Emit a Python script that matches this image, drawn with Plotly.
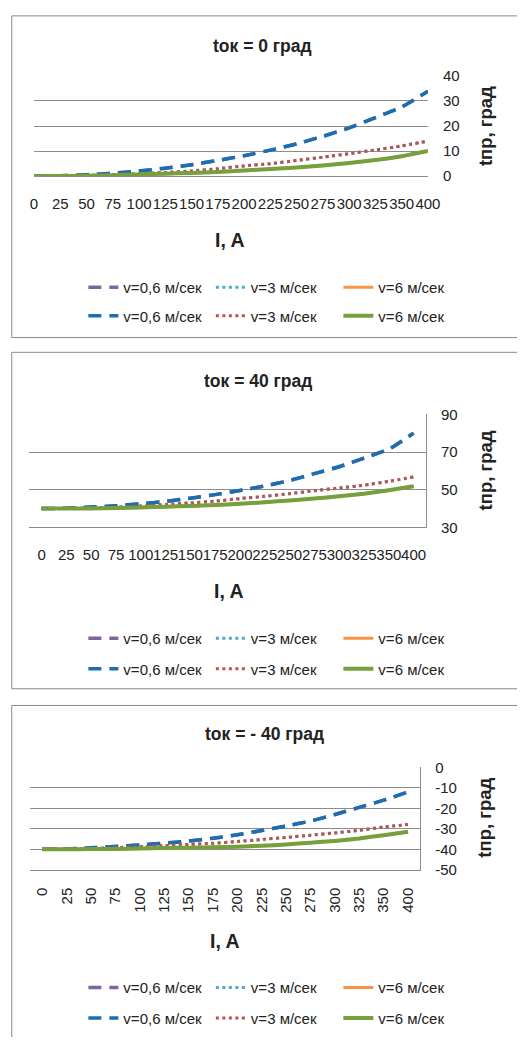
import plotly.graph_objects as go

# ---------------- data ----------------
currents = ["0", "25", "50", "75", "100", "125", "150", "175", "200",
            "225", "250", "275", "300", "325", "350", "400"]

panel_titles = ["tок = 0 град", "tок = 40 град", "tок = - 40 град"]
x_title = "I, A"
y_title = "tпр, град"
series_names = ["v=0,6 м/сек", "v=3 м/сек", "v=6 м/сек"]

# tок = 0 град
t0_v06 = [0, 0.2, 0.6, 1.2, 2.1, 3.2, 4.6, 6.3, 8.2, 10.4, 12.9, 15.9, 19.3, 23.4, 27.6, 33.9]
t0_v3 = [0, 0.1, 0.3, 0.6, 1.0, 1.5, 2.1, 3.0, 4.1, 5.0, 6.3, 7.6, 9.0, 10.5, 12.1, 14.0]
t0_v6 = [0, 0.05, 0.2, 0.4, 0.7, 1.0, 1.3, 1.7, 2.3, 2.9, 3.5, 4.3, 5.3, 6.5, 8.0, 10.1]

# tок = 40 град
t40_v06 = [40, 40.2, 40.8, 41.5, 42.5, 43.8, 45.5, 47.4, 49.6, 52.0, 54.9, 58.5, 62.2, 66.8, 71.5, 80.0]
t40_v3 = [40, 40.1, 40.3, 40.7, 41.3, 42.1, 43.0, 43.9, 45.3, 46.5, 47.9, 49.5, 50.9, 52.4, 54.4, 56.8]
t40_v6 = [40, 40.0, 40.1, 40.3, 40.6, 41.0, 41.4, 41.9, 42.5, 43.4, 44.3, 45.3, 46.5, 47.9, 49.7, 51.8]

# tок = -40 град
tm40_v06 = [-40, -39.8, -39.3, -38.6, -37.9, -37.0, -36.0, -34.6, -32.9, -30.8, -28.6, -26.2, -23.0, -19.5, -16.0, -12.0]
tm40_v3 = [-40, -39.9, -39.6, -39.2, -38.7, -38.2, -37.6, -37.1, -36.2, -35.2, -34.2, -33.1, -32.0, -30.7, -29.1, -27.9]
tm40_v6 = [-40, -40, -39.9, -39.8, -39.6, -39.4, -39.2, -39.0, -38.7, -38.3, -37.6, -36.8, -35.9, -34.7, -33.1, -31.4]

y_ticks_p1 = [0, 10, 20, 30, 40]
y_ticks_p2 = [30, 50, 70, 90]
y_ticks_p3 = [-50, -40, -30, -20, -10, 0]
y_ticktext_p1 = ["0", "10", "20", "30", "40"]
y_ticktext_p2 = ["30", "50", "70", "90"]
y_ticktext_p3 = ["-50", "-40", "-30", "-20", "-10", "0"]

panels_data = [
    (t0_v06, t0_v3, t0_v6),
    (t40_v06, t40_v3, t40_v6),
    (tm40_v06, tm40_v3, tm40_v6),
]

# ---------------- layout geometry (pixels) ----------------
W, H = 530, 1045
FONT = "Liberation Sans"
GRID = "#8c8c8c"

def px(x):
    return min(max(x / W, 0.0), 1.0)

def py(y):
    return min(max(1 - y / H, 0.0), 1.0)

panel_geo = [
    dict(x0=31, x1=438, yt=68, yb=170, bt=7, bb=334, ty=38, xty=235, yty=119, ly=(283, 312), tx=267, xtx=233,
         yr=[0, 40], tv=y_ticks_p1, tt=y_ticktext_p1, xr=[0, 15], rot=0, rline=False),
    dict(x0=26, x1=436, yt=412, yb=527, bt=349, bb=691, ty=378, xty=592, yty=469, ly=(640, 671), tx=262, xtx=232,
         yr=[30, 90], tv=y_ticks_p2, tt=y_ticktext_p2, xr=[-0.5, 15.5], rot=0, rline=True),
    dict(x0=27, x1=430, yt=771, yb=875, bt=708, bb=None, ty=737, xty=947, yty=822, ly=(995, 1026), tx=269, xtx=228,
         yr=[-50, 0], tv=y_ticks_p3, tt=y_ticktext_p3, xr=[-0.5, 15.5], rot=-90, rline=True),
]

hidden_colors = ["#8064A2", "#4BACC6", "#F79646"]
visible_colors = ["#1B6FB0", "#C0504D", "#77A03C"]
dashes = ["13px,8px", "3px,3.5px", "solid"]
widths_hidden = [3.5, 3, 3]
widths_visible = [3.5, 3, 4]

fig = go.Figure()
layout_updates = {}
annotations = []
shapes = []

BORDER = dict(color="#8a8a8a", width=1)

for p, (geo, data) in enumerate(zip(panel_geo, panels_data)):
    n = p + 1
    xa = "x" if n == 1 else f"x{n}"
    ya = "y" if n == 1 else f"y{n}"
    leg_a = "legend" if p == 0 else f"legend{2 * p + 1}"
    leg_b = f"legend{2 * p + 2}"

    for k in range(3):
        fig.add_trace(go.Scatter(
            x=currents, y=data[k], mode="lines", name=series_names[k],
            line=dict(color=hidden_colors[k], width=widths_hidden[k], dash=dashes[k], shape="spline", smoothing=0.5),
            xaxis=xa, yaxis=ya, legend=leg_a, hoverinfo="skip"))
    for k in range(3):
        fig.add_trace(go.Scatter(
            x=currents, y=data[k], mode="lines", name=series_names[k],
            line=dict(color=visible_colors[k], width=widths_visible[k], dash=dashes[k], shape="spline", smoothing=0.5),
            xaxis=xa, yaxis=ya, legend=leg_b, hoverinfo="skip"))

    xkey = "xaxis" if n == 1 else f"xaxis{n}"
    ykey = "yaxis" if n == 1 else f"yaxis{n}"
    layout_updates[xkey] = dict(
        domain=[px(geo["x0"]), px(geo["x1"])], anchor=ya, type="category",
        categoryorder="array", categoryarray=currents, range=geo["xr"],
        showgrid=False, zeroline=False, showline=True, linecolor=GRID, linewidth=1,
        ticks="outside", ticklen=14 if geo["rot"] == 0 else 11, tickcolor="rgba(0,0,0,0)",
        tickangle=geo["rot"], dtick=1, tickfont=dict(family=FONT, size=15, color="#222"),
        fixedrange=True)
    layout_updates[ykey] = dict(
        domain=[py(geo["yb"]), py(geo["yt"])], anchor=xa, side="right",
        range=geo["yr"], tickmode="array", tickvals=geo["tv"], ticktext=geo["tt"],
        showgrid=True, gridcolor=GRID, gridwidth=1, zeroline=False,
        showline=geo["rline"], linecolor=GRID, linewidth=1,
        ticks="outside", ticklen=11, tickcolor="rgba(0,0,0,0)",
        tickfont=dict(family=FONT, size=15, color="#222"), fixedrange=True)

    for leg, ly in ((leg_a, geo["ly"][0]), (leg_b, geo["ly"][1])):
        layout_updates[leg] = dict(
            orientation="h", x=px(82), y=py(ly), xanchor="left", yanchor="middle",
            entrywidth=82.5, entrywidthmode="pixels", bgcolor="rgba(0,0,0,0)",
            font=dict(family=FONT, size=15, color="#222"), traceorder="normal")

    annotations.append(dict(text=f"<b>{panel_titles[p]}</b>", x=px(geo["tx"]), y=py(geo["ty"]),
                            xref="paper", yref="paper", showarrow=False,
                            font=dict(family=FONT, size=17.5, color="#222"), xanchor="center", yanchor="middle"))
    annotations.append(dict(text=f"<b>{x_title}</b>", x=px(geo["xtx"]), y=py(geo["xty"]),
                            xref="paper", yref="paper", showarrow=False,
                            font=dict(family=FONT, size=19.5, color="#222"), xanchor="center", yanchor="middle"))
    annotations.append(dict(text=f"<b>{y_title}</b>", x=px(497), y=py(geo["yty"]), textangle=-90,
                            xref="paper", yref="paper", showarrow=False,
                            font=dict(family=FONT, size=18.5, color="#222"), xanchor="center", yanchor="middle"))
    # panel border (right edge lies outside the picture)
    y_top = py(geo["bt"])
    y_bot = py(geo["bb"]) if geo["bb"] is not None else 0.0
    shapes.append(dict(type="line", xref="paper", yref="paper", x0=px(8), x1=1.0, y0=y_top, y1=y_top, line=BORDER))
    shapes.append(dict(type="line", xref="paper", yref="paper", x0=px(8), x1=px(8), y0=y_bot, y1=y_top, line=BORDER))
    if geo["bb"] is not None:
        shapes.append(dict(type="line", xref="paper", yref="paper", x0=px(8), x1=1.0, y0=y_bot, y1=y_bot, line=BORDER))

fig.update_layout(
    width=W, height=H, margin=dict(l=0, r=0, t=0, b=0),
    paper_bgcolor="white", plot_bgcolor="white",
    annotations=annotations, shapes=shapes,
    font=dict(family=FONT, color="#222"),
    **layout_updates)

fig.write_html("out.html", config={"displayModeBar": False},
               post_script="document.body.style.margin='0px';document.body.style.overflow='hidden';")
